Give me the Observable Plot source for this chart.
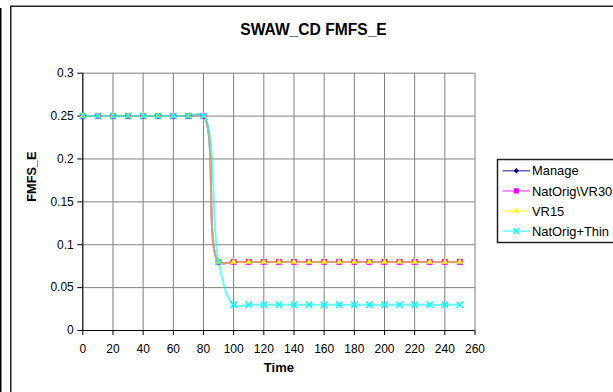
<!DOCTYPE html>
<html>
<head>
<meta charset="utf-8">
<script src="https://cdn.jsdelivr.net/npm/d3@7"></script>
<script src="https://cdn.jsdelivr.net/npm/@observablehq/plot@0.6"></script>
<style>
  html, body { margin: 0; padding: 0; background: #fff; }
  #wrap { position: relative; width: 613px; height: 392px; overflow: hidden; background: #fff; }
  #wrap > * { position: absolute; left: 0; top: 0; }
  .font { font-family: "Liberation Sans", Arial, Helvetica, sans-serif; }
</style>
</head>
<body>
<div id="wrap" class="font"></div>
<script>
// ---- data ----
const titleText = "SWAW_CD FMFS_E";
const xLabel = "Time";
const yLabel = "FMFS_E";
const times = [0, 10, 20, 30, 40, 50, 60, 70, 80, 90, 100, 110, 120, 130, 140, 150, 160, 170, 180, 190, 200, 210, 220, 230, 240, 250];
const manage = [0.25, 0.25, 0.25, 0.25, 0.25, 0.25, 0.25, 0.25, 0.25, 0.08, 0.08, 0.08, 0.08, 0.08, 0.08, 0.08, 0.08, 0.08, 0.08, 0.08, 0.08, 0.08, 0.08, 0.08, 0.08, 0.08];
const natOrigVR30 = [0.25, 0.25, 0.25, 0.25, 0.25, 0.25, 0.25, 0.25, 0.25, 0.08, 0.08, 0.08, 0.08, 0.08, 0.08, 0.08, 0.08, 0.08, 0.08, 0.08, 0.08, 0.08, 0.08, 0.08, 0.08, 0.08];
const vr15 = [0.25, 0.25, 0.25, 0.25, 0.25, 0.25, 0.25, 0.25, 0.25, 0.08, 0.08, 0.08, 0.08, 0.08, 0.08, 0.08, 0.08, 0.08, 0.08, 0.08, 0.08, 0.08, 0.08, 0.08, 0.08, 0.08];
const natOrigThin = [0.25, 0.25, 0.25, 0.25, 0.25, 0.25, 0.25, 0.25, 0.25, 0.08, 0.03, 0.03, 0.03, 0.03, 0.03, 0.03, 0.03, 0.03, 0.03, 0.03, 0.03, 0.03, 0.03, 0.03, 0.03, 0.03];
const seriesNames = ["Manage", "NatOrig\\VR30", "VR15", "NatOrig+Thin"];
const seriesValues = [manage, natOrigVR30, vr15, natOrigThin];
const xTicks = [0, 20, 40, 60, 80, 100, 120, 140, 160, 180, 200, 220, 240, 260];
const yTicks = [0, 0.05, 0.1, 0.15, 0.2, 0.25, 0.3];

// ---- styles ----
const diamondSymbol = {
  draw(ctx, size) {
    const h = Math.sqrt(size / 2);
    ctx.moveTo(0, -h); ctx.lineTo(h, 0); ctx.lineTo(0, h); ctx.lineTo(-h, 0); ctx.closePath();
  }
};
const styles = [
  {color: "#000080", lineOpacity: 0.5, symbol: diamondSymbol, r: 2.4, filled: true},
  {color: "#ff00ff", lineOpacity: 0.5, symbol: "square", r: 3.3, filled: true},
  {color: "#ffff00", lineOpacity: 0.5, symbol: "triangle", r: 2.5, filled: true},
  {color: "#00ffff", lineOpacity: 0.6, symbol: "times", r: 3, filled: false}
];

const table = seriesNames.flatMap((name, s) => times.map((t, i) => ({series: name, time: t, value: seriesValues[s][i]})));

const fontFamily = '"Liberation Sans", Arial, Helvetica, sans-serif';
const W = 613, H = 392;

const lineMarks = seriesNames.map((name, s) => Plot.line(table.filter(d => d.series === name), {
  x: "time", y: "value", stroke: styles[s].color, strokeWidth: 2, strokeOpacity: styles[s].lineOpacity, curve: "catmull-rom"
}));
const dotMarks = seriesNames.map((name, s) => Plot.dot(table.filter(d => d.series === name), styles[s].filled ? {
  x: "time", y: "value", symbol: styles[s].symbol, r: styles[s].r, fill: styles[s].color, stroke: "none"
} : {
  x: "time", y: "value", symbol: styles[s].symbol, r: styles[s].r, fill: "none", stroke: styles[s].color, strokeWidth: 1.5
}));

const chart = Plot.plot({
  width: W, height: H,
  marginLeft: 82.3, marginRight: 138.5, marginTop: 72.7, marginBottom: 62,
  style: {fontFamily, fontSize: "12px", background: "transparent", color: "black", overflow: "visible"},
  x: {domain: [0, 260], ticks: xTicks, tickSize: 5, tickPadding: 9, tickFormat: d => String(d), label: null},
  y: {domain: [0, 0.3], ticks: yTicks, tickSize: 5, tickPadding: 4, tickFormat: d => String(d), label: null},
  marks: [
    Plot.ruleX(xTicks, {stroke: "#808080", strokeWidth: 1}),
    Plot.ruleY(yTicks, {stroke: "#808080", strokeWidth: 1}),
    Plot.ruleX([0], {stroke: "black", strokeWidth: 1}),
    Plot.ruleY([0], {stroke: "black", strokeWidth: 1}),
    ...lineMarks,
    ...dotMarks,
    Plot.text([xLabel], {frameAnchor: "bottom", dy: 41.5, fontWeight: "bold", fontSize: 13, fill: "black", fontFamily}),
    Plot.text([yLabel], {frameAnchor: "left", dx: -50.6, rotate: -90, fontWeight: "bold", fontSize: 12.8, fill: "black", fontFamily})
  ]
});

const wrap = document.getElementById("wrap");
// chart frame behind
const bg = d3.select(wrap).append("svg").attr("width", W).attr("height", H);
bg.append("rect").attr("x", 0).attr("y", 8).attr("width", 1.5).attr("height", H).attr("fill", "#000");
bg.append("rect").attr("x", 10.75).attr("y", 6.25).attr("width", 700).attr("height", 500)
  .attr("fill", "#fff").attr("stroke", "#222").attr("stroke-width", 1.5);
wrap.appendChild(chart);

// overlay: title and legend
const ov = d3.select(wrap).append("svg").attr("width", W).attr("height", H).style("font-family", fontFamily);
ov.append("text").attr("x", 313.5).attr("y", 35).attr("text-anchor", "middle")
  .attr("font-size", 15.6).attr("font-weight", "bold").attr("fill", "#000").text(titleText);

const lg = ov.append("g");
lg.append("rect").attr("x", 497.5).attr("y", 159.5).attr("width", 140).attr("height", 83)
  .attr("fill", "#fff").attr("stroke", "#222").attr("stroke-width", 1.5);
seriesNames.forEach((name, s) => {
  const cy = 170.8 + s * 20.1;
  const st = styles[s];
  lg.append("line").attr("x1", 502.7).attr("x2", 530).attr("y1", cy).attr("y2", cy)
    .attr("stroke", st.color).attr("stroke-width", 1.5).attr("stroke-opacity", 0.6);
  const sym = typeof st.symbol === "string"
    ? {square: d3.symbolSquare, triangle: d3.symbolTriangle, times: d3.symbolTimes}[st.symbol]
    : st.symbol;
  const p = lg.append("path").attr("transform", `translate(516.3,${cy})`)
    .attr("d", d3.symbol(sym, st.r * st.r * Math.PI * 0.8)());
  if (st.filled) p.attr("fill", st.color);
  else p.attr("fill", "none").attr("stroke", st.color).attr("stroke-width", 1.3);
  lg.append("text").attr("x", 532).attr("y", cy + 4.6).attr("font-size", 12.9).attr("fill", "#000").text(name);
});
</script>
</body>
</html>
